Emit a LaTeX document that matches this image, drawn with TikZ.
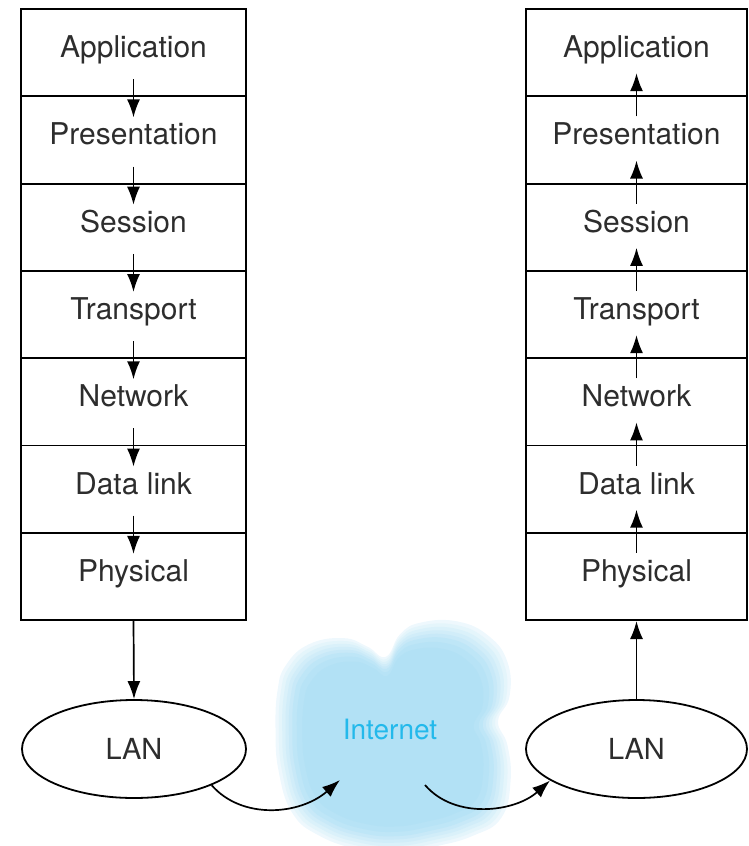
\documentclass[tikz,border=0pt]{standalone}
\usepackage{fontspec}
\setmainfont{TeX Gyre Heros}
\usetikzlibrary{arrows.meta,shapes.geometric}
\definecolor{txt}{RGB}{45,45,45}
\definecolor{cloudc}{RGB}{178,225,245}
\definecolor{inet}{RGB}{35,185,235}
\newcommand\mycloudpath{plot[smooth cycle,tension=0.75] coordinates {(290,668) (312,648) (345,642) (368,650) (386,660) (400,638) (420,627) (455,626) (485,640) (503,665) (505,698) (494,722) (503,745) (506,780) (497,815) (470,832) (435,842) (398,848) (360,845) (322,832) (296,810) (283,770) (280,730) (282,692)}}
\begin{document}
\begin{tikzpicture}[x=1pt,y=-1pt,
  layer/.style={draw=black, line width=1.8pt, minimum height=87.3pt, inner sep=0pt,
    text height=23pt, text depth=13pt,
    font=\fontsize{30}{36}\selectfont, text=txt},
  lan/.style={ellipse, draw=black, line width=1.8pt, minimum width=224pt, minimum height=98pt,
    inner sep=0pt, font=\fontsize{29}{34}\selectfont, text=txt},
  arr/.style={line width=1.7pt, -{Latex[length=18pt,width=13pt]}}]
\clip (0,0) rectangle (748,846);
% cloud
\foreach \s/\c in {1.04/22,1.01/35,0.98/48,0.95/60,0.92/72,0.89/84,0.85/93,0.80/100}{
  \begin{scope}[shift={(392,740)},scale=\s,shift={(-392,-740)}]
    \fill[cloudc!\c!white] \mycloudpath;
  \end{scope}
}
\node[text=inet, font=\fontsize{28}{33}\selectfont] (NET) at (390,729) {Internet};
% stacks
\foreach \i/\t in {1/Application,2/Presentation,3/Session,4/Transport,5/Network,6/Data link,7/Physical}{
  \node[layer, minimum width=225pt] (L\i) at (133.5,{9+87.3*(\i-0.5)}) {\t};
  \node[layer, minimum width=221pt] (R\i) at (636.5,{9+87.3*(\i-0.5)}) {\t};
}
\foreach \i/\j in {1/2,2/3,3/4,4/5,5/6,6/7}{
  \draw[arr] ([yshift=18pt]L\i.south) -- ([yshift=-22pt]L\j.north);
  \draw[arr] ([yshift=-21pt]R\j.north) -- ([yshift=24pt]R\i.south);
}
\node[lan] (LANL) at (134,749) {LAN};
\node[lan, minimum width=221pt] (LANR) at (636.5,749) {LAN};
\draw[arr] (L7.south) -- (LANL.north);
\draw[arr] (LANR.north) -- (R7.south);
\coordinate (in1) at (340,780);
\coordinate (out1) at (425,785);
\draw[arr] (LANL.-25) .. controls (242,820) and (300,815) .. (in1);
\draw[arr] (out1) .. controls (455,820) and (515,812) .. (LANR.200);
\end{tikzpicture}
\end{document}
